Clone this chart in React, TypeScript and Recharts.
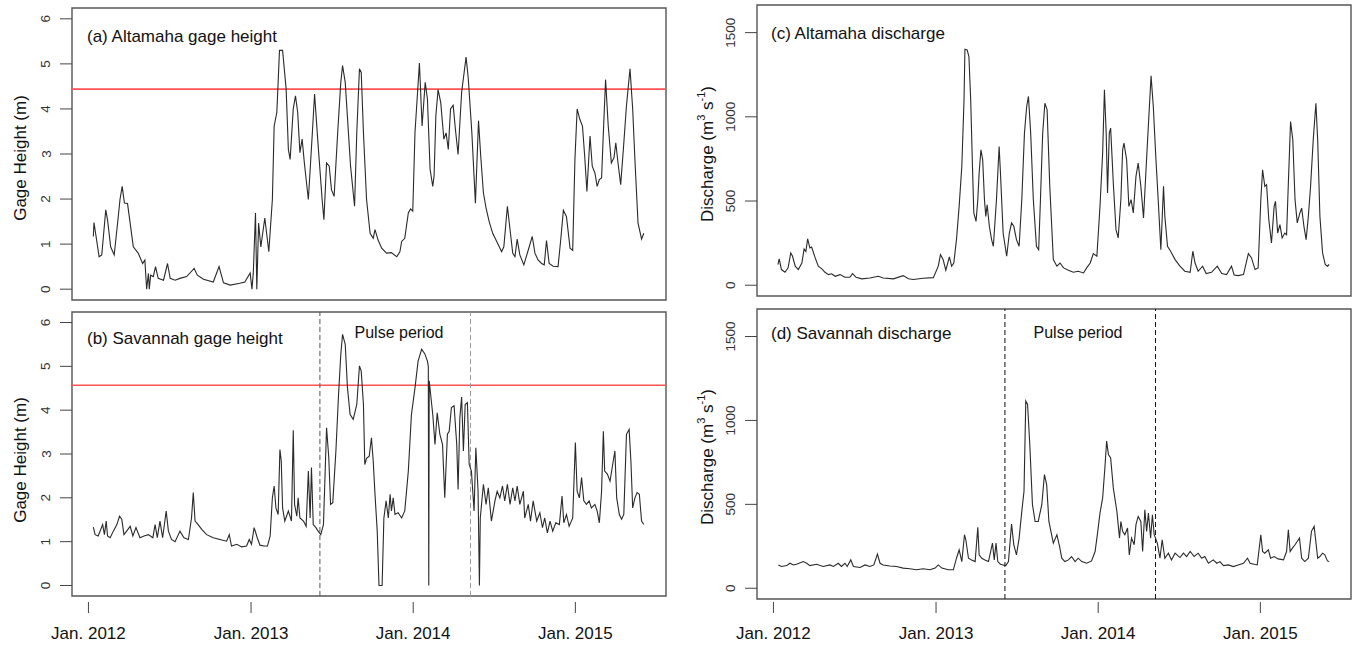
import React from 'react';
import { LineChart, Line, XAxis, YAxis, ReferenceLine, ReferenceArea } from 'recharts';

// time axis: days since 1 Jan 2012
const yearTicks = [0, 366, 731, 1096];
const yearLabels = ['Jan. 2012', 'Jan. 2013', 'Jan. 2014', 'Jan. 2015'];
const pulseStart = 521;
const pulseEnd = 860;

const gageTicks = [0, 1, 2, 3, 4, 5, 6];
const dischargeTicks = [0, 500, 1000, 1500];

const altamahaFlood = 4.44;
const savannahFlood = 4.57;

// (a) Altamaha gage height (m)
const altamahaGage: [number, number][] = [
  [11, 1.17], [12.5, 1.48], [24, 0.72], [30, 0.76], [39, 1.76], [43, 1.54], [50, 0.94], [58, 0.76], [68, 1.69], [71, 1.99],
  [76, 2.28], [81, 1.91], [88, 1.9], [101, 0.94], [112, 0.8], [122, 0.57], [127, 0.65], [131, 0], [135, 0.35], [137, 0],
  [140, 0.31], [146, 0.28], [151, 0.5], [157, 0.24], [169, 0.2], [178, 0.57], [184, 0.24], [195, 0.2], [206, 0.24], [221, 0.28],
  [238, 0.46], [245, 0.31], [259, 0.22], [281, 0.16], [294, 0.5], [304, 0.14], [319, 0.09], [341, 0.13], [352, 0.16], [364, 0.36],
  [368, 0], [371, 0.35], [376, 1.69], [379, 0], [383, 1.47], [388, 0.94], [397, 1.58], [406, 0.83], [414, 1.99], [418, 3.62],
  [424, 3.92], [427, 4.59], [430, 5.3], [437, 5.3], [445, 4.44], [450, 3.1], [454, 2.88], [461, 4.0], [466, 4.29], [471, 3.92],
  [476, 3.03], [481, 3.33], [486, 2.8], [495, 1.99], [504, 3.47], [509, 4.33], [516, 3.33], [526, 1.99], [530, 1.54], [536, 2.8],
  [542, 2.73], [547, 2.21], [553, 2.06], [561, 3.47], [568, 4.59], [572, 4.96], [578, 4.59], [590, 2.73], [599, 1.84], [604, 3.47],
  [610, 4.89], [614, 4.81], [619, 3.47], [626, 1.99], [634, 1.24], [641, 1.13], [645, 1.32], [652, 1.09], [660, 0.91], [671, 0.8],
  [682, 0.81], [694, 0.72], [701, 0.83], [705, 1.06], [712, 1.13], [720, 1.69], [725, 1.78], [730, 1.73], [735, 3.47], [745, 5.02],
  [751, 3.62], [758, 4.59], [763, 4.22], [769, 2.66], [775, 2.28], [778, 2.51], [782, 3.85], [787, 4.43], [793, 4.14], [800, 3.33],
  [805, 3.47], [810, 3.1], [815, 4.0], [821, 4.08], [826, 3.55], [832, 2.99], [840, 4.37], [850, 5.15], [855, 4.67], [863, 3.47],
  [871, 1.91], [878, 3.74], [883, 2.95], [889, 2.14], [895, 1.8], [902, 1.5], [910, 1.24], [919, 1.06], [930, 0.83], [935, 0.94],
  [943, 1.84], [949, 1.32], [955, 0.8], [960, 0.72], [965, 1.11], [971, 0.76], [980, 0.54], [990, 0.87], [999, 1.17], [1005, 0.8],
  [1012, 0.65], [1020, 0.57], [1026, 0.54], [1031, 1.08], [1037, 0.57], [1046, 0.51], [1057, 0.5], [1063, 1.09], [1069, 1.75], [1076, 1.61],
  [1084, 0.91], [1090, 0.86], [1095, 2.88], [1100, 4.0], [1106, 3.77], [1112, 3.62], [1117, 2.95], [1122, 2.17], [1129, 3.4], [1134, 2.73],
  [1140, 2.58], [1145, 2.28], [1150, 2.43], [1155, 2.47], [1159, 3.47], [1164, 4.65], [1170, 3.62], [1177, 2.8], [1183, 2.92], [1187, 3.25],
  [1192, 2.8], [1198, 2.32], [1204, 3.1], [1211, 4.07], [1219, 4.89], [1225, 4.0], [1230, 2.88], [1237, 1.47], [1245, 1.11], [1250, 1.24],
];

// (b) Savannah gage height (m)
const savannahGage: [number, number][] = [
  [11, 1.33], [15, 1.16], [22, 1.13], [32, 1.39], [36, 1.16], [40, 1.47], [43, 1.13], [49, 1.09], [56, 1.24], [64, 1.39],
  [70, 1.58], [75, 1.51], [80, 1.16], [86, 1.24], [94, 1.35], [100, 1.13], [107, 1.32], [116, 1.09], [125, 1.13], [135, 1.16],
  [145, 1.09], [150, 1.39], [155, 1.09], [161, 1.47], [167, 1.09], [175, 1.7], [180, 1.24], [187, 1.05], [195, 1.0], [206, 1.24],
  [215, 1.09], [225, 1.05], [232, 1.54], [236, 2.12], [240, 1.47], [247, 1.39], [255, 1.28], [266, 1.16], [281, 1.09], [296, 1.05],
  [311, 1.01], [317, 1.16], [322, 0.9], [334, 0.94], [345, 0.88], [356, 0.9], [362, 1.05], [367, 0.94], [373, 1.32], [380, 1.09],
  [386, 0.92], [395, 0.9], [403, 0.9], [409, 1.13], [414, 2.0], [418, 2.27], [422, 1.77], [427, 1.62], [431, 3.1], [434, 2.84],
  [437, 1.77], [442, 1.47], [450, 1.7], [457, 1.47], [461, 3.54], [464, 1.85], [469, 1.58], [472, 2.0], [476, 1.54], [484, 1.47],
  [490, 1.35], [495, 2.61], [499, 1.54], [502, 2.69], [506, 1.39], [512, 1.32], [517, 1.24], [523, 1.16], [529, 1.39], [536, 3.6],
  [541, 2.91], [545, 1.85], [550, 1.89], [557, 3.07], [563, 4.36], [568, 5.27], [572, 5.73], [578, 5.5], [583, 4.51], [589, 3.9],
  [596, 3.79], [604, 4.13], [610, 5.01], [614, 4.89], [619, 4.13], [622, 2.76], [626, 2.9], [632, 2.95], [637, 3.37], [641, 2.84],
  [645, 2.08], [650, 1.24], [654, 0], [661, 0], [665, 1.54], [670, 1.93], [675, 1.54], [679, 2.08], [682, 1.7], [686, 2.0],
  [690, 1.62], [697, 1.66], [705, 1.54], [712, 1.7], [720, 2.61], [727, 3.9], [735, 4.51], [742, 5.12], [750, 5.39], [757, 5.29],
  [763, 5.12], [765, 5.0], [766, 0], [767, 4.67], [775, 3.9], [780, 3.22], [785, 3.94], [791, 3.45], [797, 3.22], [802, 2.0],
  [808, 3.45], [812, 3.52], [817, 4.06], [823, 4.1], [829, 3.22], [832, 2.19], [836, 3.83], [840, 4.3], [844, 3.07], [848, 4.13],
  [853, 4.17], [857, 2.76], [862, 2.61], [868, 1.7], [872, 3.14], [877, 2.15], [880, 0], [882, 1.54], [889, 2.31], [895, 1.85],
  [900, 2.23], [907, 1.47], [915, 1.93], [920, 2.15], [926, 2.0], [932, 2.27], [937, 1.93], [943, 2.31], [949, 1.85], [955, 2.23],
  [960, 1.93], [965, 2.27], [971, 1.85], [979, 2.15], [982, 1.54], [990, 1.85], [995, 1.47], [1001, 1.93], [1009, 1.47], [1016, 1.66],
  [1022, 1.32], [1027, 1.54], [1033, 1.2], [1039, 1.47], [1045, 1.24], [1052, 1.43], [1060, 1.39], [1066, 2.04], [1070, 1.43], [1076, 1.62],
  [1082, 1.35], [1090, 1.54], [1096, 3.26], [1100, 2.15], [1105, 2.0], [1110, 2.46], [1115, 1.93], [1121, 1.85], [1127, 1.93], [1132, 1.77],
  [1140, 1.85], [1145, 1.7], [1150, 1.43], [1155, 2.15], [1159, 3.52], [1162, 2.61], [1168, 2.54], [1174, 2.38], [1180, 2.76], [1185, 3.07],
  [1189, 2.0], [1195, 1.62], [1200, 1.51], [1205, 1.62], [1211, 3.45], [1217, 3.56], [1221, 2.84], [1225, 1.77], [1230, 2.0], [1235, 2.12],
  [1240, 2.08], [1245, 1.47], [1250, 1.39],
];

// (c) Altamaha discharge (m3/s)
const altamahaFlow: [number, number][] = [
  [10, 123], [13, 156], [18, 93], [26, 77], [33, 103], [39, 192], [43, 172], [49, 113], [56, 93], [64, 132],
  [69, 215], [73, 200], [77, 275], [82, 221], [86, 227], [94, 162], [101, 113], [109, 97], [116, 77], [124, 63],
  [131, 68], [139, 53], [150, 63], [161, 47], [172, 47], [178, 69], [186, 47], [199, 38], [217, 43], [236, 53],
  [247, 43], [270, 38], [292, 57], [304, 38], [315, 34], [337, 41], [360, 45], [371, 113], [376, 182], [382, 152],
  [388, 89], [396, 168], [401, 113], [406, 132], [412, 271], [418, 468], [424, 705], [429, 1101], [431, 1401], [436, 1397],
  [440, 1358], [444, 1101], [448, 705], [451, 429], [456, 379], [460, 508], [463, 666], [467, 804], [471, 745], [475, 508],
  [478, 409], [481, 478], [486, 350], [491, 271], [495, 231], [502, 508], [508, 824], [511, 666], [517, 310], [525, 172],
  [531, 310], [536, 370], [541, 350], [547, 271], [553, 231], [559, 508], [565, 903], [570, 1061], [574, 1121], [579, 903],
  [585, 508], [592, 231], [597, 211], [601, 508], [606, 903], [611, 1081], [616, 1041], [622, 587], [630, 152], [638, 113],
  [645, 132], [653, 103], [664, 89], [675, 77], [686, 83], [698, 73], [705, 103], [713, 132], [720, 188], [728, 172],
  [735, 468], [741, 785], [745, 1160], [749, 903], [752, 547], [756, 903], [759, 933], [765, 607], [771, 330], [776, 281],
  [782, 508], [786, 804], [789, 844], [795, 745], [800, 468], [805, 508], [810, 429], [816, 646], [821, 725], [827, 587],
  [833, 399], [839, 705], [845, 1002], [850, 1243], [855, 1061], [861, 745], [866, 508], [872, 211], [878, 587], [881, 409],
  [887, 231], [894, 202], [904, 152], [915, 113], [926, 83], [938, 77], [944, 202], [949, 132], [956, 83], [966, 113],
  [974, 69], [986, 77], [999, 113], [1009, 69], [1020, 63], [1031, 113], [1037, 61], [1046, 57], [1058, 63], [1069, 188],
  [1076, 162], [1084, 93], [1091, 103], [1097, 508], [1101, 686], [1106, 587], [1110, 597], [1115, 389], [1121, 251], [1127, 468],
  [1130, 498], [1135, 310], [1140, 360], [1145, 281], [1151, 310], [1155, 300], [1159, 607], [1164, 972], [1169, 864], [1174, 508],
  [1179, 370], [1185, 429], [1189, 458], [1194, 350], [1199, 271], [1204, 409], [1209, 587], [1215, 864], [1221, 1081], [1225, 864],
  [1230, 409], [1236, 192], [1242, 123], [1247, 113], [1251, 123],
];

// (d) Savannah discharge (m3/s)
const savannahFlow: [number, number][] = [
  [11, 139], [18, 130], [30, 135], [37, 149], [45, 139], [52, 143], [67, 159], [75, 149], [82, 135], [97, 143],
  [112, 130], [127, 139], [135, 130], [146, 149], [153, 130], [161, 149], [166, 130], [174, 169], [180, 130], [195, 124],
  [206, 139], [217, 130], [226, 139], [234, 203], [240, 149], [247, 139], [262, 133], [277, 130], [292, 120], [307, 116],
  [322, 110], [337, 116], [352, 110], [364, 120], [371, 139], [379, 120], [394, 110], [405, 110], [412, 179], [418, 229],
  [424, 159], [430, 319], [433, 289], [439, 179], [446, 169], [454, 159], [460, 363], [463, 199], [469, 179], [476, 169],
  [484, 159], [493, 269], [497, 169], [501, 269], [505, 159], [511, 143], [517, 139], [523, 135], [529, 159], [536, 383],
  [541, 259], [547, 199], [553, 299], [559, 458], [564, 578], [568, 1116], [572, 1096], [577, 857], [583, 498], [589, 398],
  [596, 398], [604, 498], [610, 677], [615, 618], [620, 398], [630, 269], [638, 319], [644, 249], [649, 179], [656, 159],
  [664, 169], [671, 189], [679, 159], [686, 179], [694, 159], [705, 149], [716, 163], [724, 219], [730, 339], [735, 448],
  [741, 538], [746, 717], [750, 877], [754, 797], [759, 777], [765, 598], [773, 458], [779, 299], [782, 398], [786, 339],
  [791, 319], [797, 359], [801, 199], [806, 299], [812, 259], [816, 379], [821, 428], [827, 398], [831, 219], [836, 468],
  [840, 339], [844, 448], [849, 299], [853, 438], [857, 319], [860, 299], [864, 269], [870, 179], [875, 289], [881, 179],
  [889, 209], [896, 169], [904, 209], [915, 183], [923, 209], [930, 189], [938, 219], [947, 189], [956, 209], [964, 179],
  [971, 189], [979, 149], [990, 169], [998, 149], [1005, 159], [1013, 135], [1024, 139], [1035, 129], [1046, 139], [1058, 149],
  [1067, 179], [1073, 149], [1082, 143], [1089, 139], [1097, 319], [1101, 219], [1106, 209], [1114, 229], [1119, 179], [1127, 189],
  [1136, 175], [1148, 169], [1155, 219], [1159, 349], [1163, 219], [1168, 239], [1174, 259], [1179, 279], [1184, 299], [1189, 179],
  [1196, 159], [1204, 179], [1211, 339], [1217, 369], [1220, 299], [1225, 179], [1230, 189], [1236, 209], [1241, 199], [1247, 163],
  [1251, 159],
];

const FONT = '"Liberation Sans", Arial, Helvetica, sans-serif';
const X_DOMAIN: [number, number] = [-37, 1300];
const GAGE_DOMAIN: [number, number] = [-0.24, 6.24];
const FLOW_DOMAIN: [number, number] = [-64, 1664];

const toRows = (pts: [number, number][]) => pts.map(([t, v]) => ({ t, v }));

function YTick(props: any) {
  const { x, y, payload, fontSize } = props;
  const lx = x - 26;
  return (
    <g>
      <line x1={x - 12} x2={x} y1={y} y2={y} stroke="#444" strokeWidth={1} />
      <text x={lx} y={y} transform={`rotate(-90 ${lx} ${y})`} textAnchor="middle" dominantBaseline="central"
        fontSize={fontSize} fill="#333" fontFamily={FONT}>{payload.value}</text>
    </g>
  );
}

function XTick(props: any) {
  const { x, y, payload, gap } = props;
  const idx = yearTicks.indexOf(payload.value);
  return (
    <g>
      <line x1={x} x2={x} y1={y + gap} y2={y + gap + 11} stroke="#444" strokeWidth={1} />
      <text x={x} y={y + gap + 37} textAnchor="middle" fontSize={17} fill="#111" fontFamily={FONT}>{yearLabels[idx]}</text>
    </g>
  );
}

interface PanelProps {
  left: number; top: number; width: number; height: number;
  margin: { top: number; right: number; bottom: number; left: number };
  yWidth: number;
  series: [number, number][];
  yDomain: [number, number];
  yTicks: number[];
  yFont: number;
  showX: boolean;
  xHeight?: number;
  xGap?: number;
  flood?: number;
  pulseColors?: [string, string];
}

function Panel(p: PanelProps) {
  return (
    <div style={{ position: 'absolute', left: p.left, top: p.top }}>
      <LineChart width={p.width} height={p.height} margin={p.margin} data={toRows(p.series)}>
        <XAxis dataKey="t" type="number" domain={X_DOMAIN} ticks={yearTicks} allowDataOverflow interval={0}
          hide={!p.showX} height={p.xHeight ?? 30} axisLine={false} tickLine={false} tickSize={0} tickMargin={0}
          tick={(tp: any) => <XTick {...tp} gap={p.xGap ?? 6} />} />
        <YAxis type="number" domain={p.yDomain} ticks={p.yTicks} allowDataOverflow interval={0} width={p.yWidth}
          axisLine={false} tickLine={false} tickSize={0} tickMargin={0}
          tick={(tp: any) => <YTick {...tp} fontSize={p.yFont} />} />
        {p.flood !== undefined && (
          <ReferenceLine y={p.flood} stroke="#ff5252" strokeWidth={1.6} />
        )}
        {p.pulseColors && (
          <ReferenceLine x={pulseStart} stroke={p.pulseColors[0]} strokeDasharray="5 3" strokeWidth={1} />
        )}
        {p.pulseColors && (
          <ReferenceLine x={pulseEnd} stroke={p.pulseColors[1]} strokeDasharray="5 3" strokeWidth={1} />
        )}
        <Line type="linear" dataKey="v" stroke="#2a2a2a" strokeWidth={1.1} dot={false} activeDot={false}
          isAnimationActive={false} />
        <ReferenceArea x1={X_DOMAIN[0]} x2={X_DOMAIN[1]} y1={p.yDomain[0]} y2={p.yDomain[1]}
          fill="none" fillOpacity={0} stroke="#555" strokeWidth={1.4} ifOverflow="visible" />
      </LineChart>
    </div>
  );
}

export default function App() {
  const txt = { fontFamily: FONT, fill: '#111' } as const;
  return (
    <div style={{ position: 'absolute', left: 0, top: 0, width: 1358, height: 646, background: '#fff', overflow: 'hidden' }}>
      <Panel left={0} top={0} width={680} height={310} margin={{ top: 8, right: 14, bottom: 10, left: 0 }} yWidth={72}
        series={altamahaGage} yDomain={GAGE_DOMAIN} yTicks={gageTicks} yFont={13.5} showX={false} flood={altamahaFlood} />
      <Panel left={0} top={304} width={680} height={342} margin={{ top: 8, right: 14, bottom: 0, left: 0 }} yWidth={72}
        series={savannahGage} yDomain={GAGE_DOMAIN} yTicks={gageTicks} yFont={13.5} showX xHeight={50} xGap={6}
        flood={savannahFlood} pulseColors={['#555', '#999']} />
      <Panel left={680} top={0} width={678} height={306} margin={{ top: 5, right: 7, bottom: 10, left: 0 }} yWidth={77}
        series={altamahaFlow} yDomain={FLOW_DOMAIN} yTicks={dischargeTicks} yFont={13.5} showX={false} />
      <Panel left={680} top={304} width={678} height={342} margin={{ top: 5, right: 7, bottom: 0, left: 0 }} yWidth={77}
        series={savannahFlow} yDomain={FLOW_DOMAIN} yTicks={dischargeTicks} yFont={13.5} showX xHeight={47} xGap={3}
        pulseColors={['#111', '#111']} />

      <svg width={1358} height={646} style={{ position: 'absolute', left: 0, top: 0, pointerEvents: 'none' }}>
        <text x={87} y={41.5} fontSize={17} {...txt}>(a) Altamaha gage height</text>
        <text x={87} y={344} fontSize={17} {...txt}>(b) Savannah gage height</text>
        <text x={771} y={39} fontSize={17} {...txt}>(c) Altamaha discharge</text>
        <text x={771} y={339} fontSize={17} {...txt}>(d) Savannah discharge</text>
        <text x={399} y={337.5} fontSize={16} textAnchor="middle" {...txt}>Pulse period</text>
        <text x={1078} y={338} fontSize={16} textAnchor="middle" {...txt}>Pulse period</text>

        <text x={20} y={158} transform="rotate(-90 20 158)" fontSize={17} textAnchor="middle" dominantBaseline="central" {...txt}>Gage Height (m)</text>
        <text x={20} y={460} transform="rotate(-90 20 460)" fontSize={17} textAnchor="middle" dominantBaseline="central" {...txt}>Gage Height (m)</text>
        {[154, 457].map((cy) => (
          <text key={cy} x={707} y={cy} transform={`rotate(-90 707 ${cy})`} fontSize={17} textAnchor="middle" dominantBaseline="central" {...txt}>
            Discharge (m<tspan fontSize={11} dy={-6}>3</tspan><tspan dy={6}> s</tspan><tspan fontSize={11} dy={-6}>-1</tspan><tspan dy={6}>)</tspan>
          </text>
        ))}
      </svg>
    </div>
  );
}
